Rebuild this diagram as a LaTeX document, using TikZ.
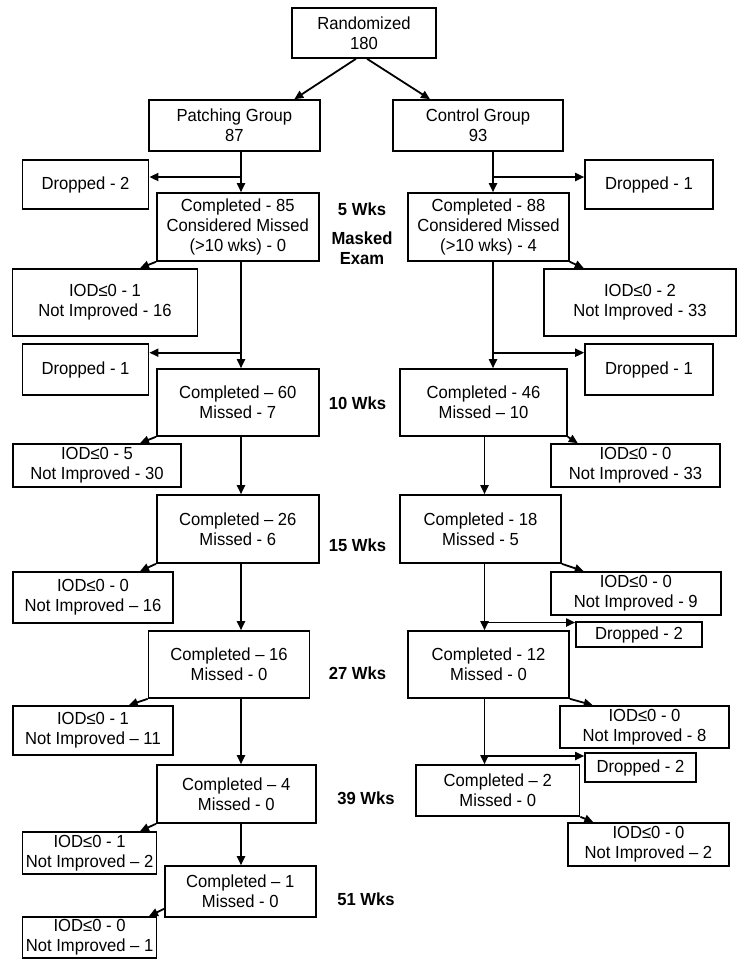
\documentclass[tikz,border=0pt]{standalone}
\usepackage{fontspec}
\setmainfont{Liberation Sans}[FakeStretch=0.95]
\usetikzlibrary{arrows.meta,calc}
\begin{document}
\begin{tikzpicture}[x=1pt,y=-1pt,
  bx/.style={draw,line width=1.6pt,align=center,inner sep=0pt,font=\fontsize{17.5}{20}\selectfont},
  lbl/.style={align=center,inner sep=0pt,font=\fontsize{17.5}{20}\selectfont\bfseries},
  arr/.style={line width=1.8pt,-{Triangle[length=9pt,width=8pt]}},
  ln/.style={line width=1.8pt}]
\useasboundingbox (0,0) rectangle (737,970);

% top
\node[bx,minimum width=144,minimum height=50] (R) at (364,33) {Randomized\\180};
\node[bx,minimum width=171,minimum height=51] (P) at (234.3,125.5) {Patching Group\\87};
\node[bx,minimum width=170,minimum height=51] (C) at (478,125.5) {Control Group\\93};

% patching column
\node[bx,minimum width=126,minimum height=49] (PD1) at (85.6,184.5) {Dropped - 2};
\node[bx,minimum width=162,minimum height=68] (P5) at (237.8,227) {Completed - 85\\Considered Missed\\(>10 wks) - 0};
\node[bx,minimum width=185,minimum height=67] (PI1) at (105,302.5) {IOD≤0 - 1\\Not Improved - 16};
\node[bx,minimum width=126,minimum height=51] (PD2) at (85.6,369.5) {Dropped - 1};
\node[bx,minimum width=162,minimum height=67] (P10) at (237.8,402.5) {Completed – 60\\Missed - 7};
\node[bx,minimum width=168,minimum height=43] (PI2) at (97,465.5) {IOD≤0 - 5\\Not Improved - 30};
\node[bx,minimum width=162,minimum height=68] (P15) at (237.8,529) {Completed – 26\\Missed - 6};
\node[bx,minimum width=160,minimum height=51] (PI3) at (93,597.5) {IOD≤0 - 0\\Not Improved – 16};
\node[bx,minimum width=161,minimum height=67] (P27) at (229,664.5) {Completed – 16\\Missed - 0};
\node[bx,minimum width=160,minimum height=49] (PI4) at (93,730.5) {IOD≤0 - 1\\Not Improved – 11};
\node[bx,minimum width=159,minimum height=58] (P39) at (236.3,794) {Completed – 4\\Missed - 0};
\node[bx,minimum width=134,minimum height=42] (PI5) at (89.6,853) {IOD≤0 - 1\\Not Improved – 2};
\node[bx,minimum width=151,minimum height=51] (P51) at (240.3,891.5) {Completed – 1\\Missed - 0};
\node[bx,minimum width=134,minimum height=41] (PI6) at (89.6,937.5) {IOD≤0 - 0\\Not Improved – 1};

% control column
\node[bx,minimum width=128,minimum height=49] (CD1) at (649,184.5) {Dropped - 1};
\node[bx,minimum width=161,minimum height=68] (C5) at (488.5,227) {Completed - 88\\Considered Missed\\(>10 wks) - 4};
\node[bx,minimum width=192,minimum height=67] (CI1) at (640,302.5) {IOD≤0 - 2\\Not Improved - 33};
\node[bx,minimum width=128,minimum height=51] (CD2) at (649,369.5) {Dropped - 1};
\node[bx,minimum width=167,minimum height=67] (C10) at (483.5,402.5) {Completed - 46\\Missed – 10};
\node[bx,minimum width=169,minimum height=43] (CI2) at (635.5,465.5) {IOD≤0 - 0\\Not Improved - 33};
\node[bx,minimum width=161,minimum height=68] (C15) at (480.5,529) {Completed - 18\\Missed - 5};
\node[bx,minimum width=170,minimum height=43] (CI3) at (635.8,593.5) {IOD≤0 - 0\\Not Improved - 9};
\node[bx,minimum width=126,minimum height=25] (CD3) at (639,634.5) {Dropped - 2};
\node[bx,minimum width=161,minimum height=67] (C27) at (488.5,664.5) {Completed - 12\\Missed - 0};
\node[bx,minimum width=169,minimum height=42] (CI4) at (644.5,727) {IOD≤0 -  0\\Not Improved - 8};
\node[bx,minimum width=111,minimum height=29] (CD4) at (640.5,767.5) {Dropped - 2};
\node[bx,minimum width=163.5,minimum height=51] (C39) at (497.8,790.5) {Completed – 2\\Missed - 0};
\node[bx,minimum width=161,minimum height=43] (CI5) at (648.5,844.5) {IOD≤0 - 0\\Not Improved – 2};

% week labels
\node[lbl] (W5) at (362,209) {5 Wks};
\node[lbl] (ME) at (362,248.5) {Masked\\Exam};
\node[lbl] (W10) at (357.5,403) {10 Wks};
\node[lbl] (W15) at (357.5,545) {15 Wks};
\node[lbl] (W27) at (357.5,673) {27 Wks};
\node[lbl] (W39) at (366,798) {39 Wks};
\node[lbl] (W51) at (366,899) {51 Wks};

% randomization arrows
\draw[arr] ($(R.south)+(-8,0)$) -- ($(P.north)+(60,0)$);
\draw[arr] ($(R.south)+(3,0)$) -- ($(C.north)+(-48,0)$);

% patching spine
\coordinate (sp) at (241,0);
\coordinate (pb1) at (241,177);
\coordinate (pb2) at (241,352.7);
\draw[arr] (P.south -| sp) -- (P5.north -| sp);
\draw[arr] (pb1) -- (pb1 -| PD1.east);
\draw[arr] (P5.south -| sp) -- (P10.north -| sp);
\draw[arr] (pb2) -- (pb2 -| PD2.east);
\draw[arr] (P10.south -| sp) -- (P15.north -| sp);
\draw[arr] (P15.south -| sp) -- (P27.north -| sp);
\draw[arr] (P27.south -| sp) -- (P39.north -| sp);
\draw[arr] (P39.south -| sp) -- (P51.north -| sp);

% control spine
\coordinate (cs1) at (493,0);
\coordinate (cs2) at (484.5,0);
\coordinate (cb1) at (493,177);
\coordinate (cb2) at (493,352.7);
\coordinate (cb3) at (484.5,622.5);
\coordinate (cb4) at (484.5,756);
\draw[arr] (C.south -| cs1) -- (C5.north -| cs1);
\draw[arr] (cb1) -- (cb1 -| CD1.west);
\draw[arr] (C5.south -| cs1) -- (C10.north -| cs1);
\draw[arr] (cb2) -- (cb2 -| CD2.west);
\draw[arr] (C10.south -| cs2) -- (C15.north -| cs2);
\draw[arr] (C15.south -| cs2) -- (C27.north -| cs2);
\draw[arr] (cb3) -- (cb3 -| CD3.west);
\draw[arr] (C27.south -| cs2) -- (C39.north -| cs2);
\draw[arr] (cb4) -- (cb4 -| CD4.west);

% IOD arrows, left
\draw[arr] (P5.south west) -- ($(P5.south west |- PI1.north)+(-16,0)$);
\draw[arr] (P10.south west) -- ($(P10.south west |- PI2.north)+(-16,0)$);
\draw[arr] (P15.south west) -- ($(P15.south west |- PI3.north)+(-16,0)$);
\draw[arr] (P27.south west) -- ($(P27.south west |- PI4.north)+(-19,0)$);
\draw[arr] (P39.south west) -- ($(P39.south west |- PI5.north)+(-16,0)$);
\draw[arr] ($(P51.south west)+(0,-9)$) -- ($(P51.south west |- PI6.north)+(-15,0)$);

% IOD arrows, right
\draw[arr] (C5.south east) -- ($(C5.south east |- CI1.north)+(14,0)$);
\draw[arr] (C10.south east) -- ($(C10.south east |- CI2.north)+(10,0)$);
\draw[arr] (C15.south east) -- ($(C15.south east |- CI3.north)+(22,0)$);
\draw[arr] (C27.south east) -- ($(C27.south east |- CI4.north)+(23,0)$);
\draw[arr] (C39.south east) -- ($(C39.south east |- CI5.north)+(13,0)$);
\end{tikzpicture}
\end{document}
